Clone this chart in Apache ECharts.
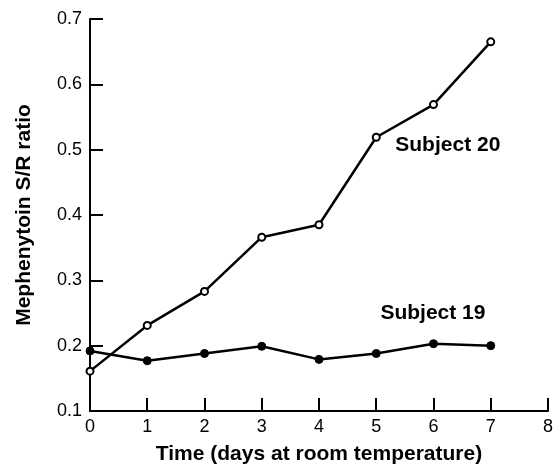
<!DOCTYPE html>
<html>
<head>
<meta charset="utf-8">
<script src="https://cdn.jsdelivr.net/npm/echarts@6/dist/echarts.min.js"></script>
<style>html,body{margin:0;padding:0;background:#fff}#c{width:556px;height:470px}</style>
</head>
<body>
<div id="c"></div>
<script>
var days = [0, 1, 2, 3, 4, 5, 6, 7];
var subject20 = [0.161, 0.231, 0.283, 0.366, 0.385, 0.519, 0.569, 0.665];
var subject19 = [0.192, 0.177, 0.188, 0.199, 0.179, 0.188, 0.203, 0.200];
var xTicks = [0, 1, 2, 3, 4, 5, 6, 7, 8];
var yTicks = [0.1, 0.2, 0.3, 0.4, 0.5, 0.6, 0.7];
var label20 = {text: 'Subject 20', x: 6.25, y: 0.507};
var label19 = {text: 'Subject 19', x: 5.99, y: 0.25};

function pairs(xs, ys) { return xs.map(function (x, i) { return [x, ys[i]]; }); }

var font = '"Liberation Sans", Arial, Helvetica, sans-serif';
var chart = echarts.init(document.getElementById('c'), null, {renderer: 'canvas'});
chart.setOption({
  animation: false,
  backgroundColor: '#fff',
  grid: {left: 90, right: 5, top: 19, bottom: 55, containLabel: false},
  xAxis: {
    type: 'value', min: 0, max: 8, interval: 1,
    name: 'Time (days at room temperature)', nameLocation: 'middle', nameGap: 33,
    nameTextStyle: {fontFamily: font, fontSize: 21, fontWeight: 'bold', color: '#000'},
    axisLine: {lineStyle: {color: '#000', width: 2}},
    axisTick: {inside: true, length: 13, lineStyle: {color: '#000', width: 2}},
    axisLabel: {fontFamily: font, fontSize: 18, color: '#000', margin: 7,
      formatter: function (v) { return xTicks.indexOf(v) >= 0 ? String(v) : ''; }},
    splitLine: {show: false}
  },
  yAxis: {
    type: 'value', min: 0.1, max: 0.7, interval: 0.1,
    name: 'Mephenytoin S/R ratio', nameLocation: 'middle', nameGap: 55,
    nameTextStyle: {fontFamily: font, fontSize: 21, fontWeight: 'bold', color: '#000'},
    axisLine: {show: true, lineStyle: {color: '#000', width: 2}},
    axisTick: {show: true, inside: true, length: 13, lineStyle: {color: '#000', width: 2}},
    axisLabel: {fontFamily: font, fontSize: 18, color: '#000', margin: 8,
      formatter: function (v) {
        var r = Math.round(v * 10) / 10;
        return yTicks.indexOf(r) >= 0 ? r.toFixed(1) : '';
      }},
    splitLine: {show: false}
  },
  series: [
    {
      name: 'Subject 20', type: 'line', data: pairs(days, subject20),
      symbol: 'circle', symbolSize: 7, showAllSymbol: true,
      lineStyle: {color: '#000', width: 2.5},
      itemStyle: {color: '#fff', borderColor: '#000', borderWidth: 2},
      z: 3,
      markPoint: {
        symbol: 'circle', symbolSize: 0,
        data: [{coord: [label20.x, label20.y], value: label20.text}],
        label: {show: true, position: 'inside', formatter: label20.text,
          fontFamily: font, fontSize: 21, fontWeight: 'bold', color: '#000'}
      }
    },
    {
      name: 'Subject 19', type: 'line', data: pairs(days, subject19),
      symbol: 'circle', symbolSize: 8, showAllSymbol: true,
      lineStyle: {color: '#000', width: 2.5},
      itemStyle: {color: '#000', borderColor: '#000', borderWidth: 1},
      z: 2,
      markPoint: {
        symbol: 'circle', symbolSize: 0,
        data: [{coord: [label19.x, label19.y], value: label19.text}],
        label: {show: true, position: 'inside', formatter: label19.text,
          fontFamily: font, fontSize: 21, fontWeight: 'bold', color: '#000'}
      }
    }
  ]
});
</script>
</body>
</html>
